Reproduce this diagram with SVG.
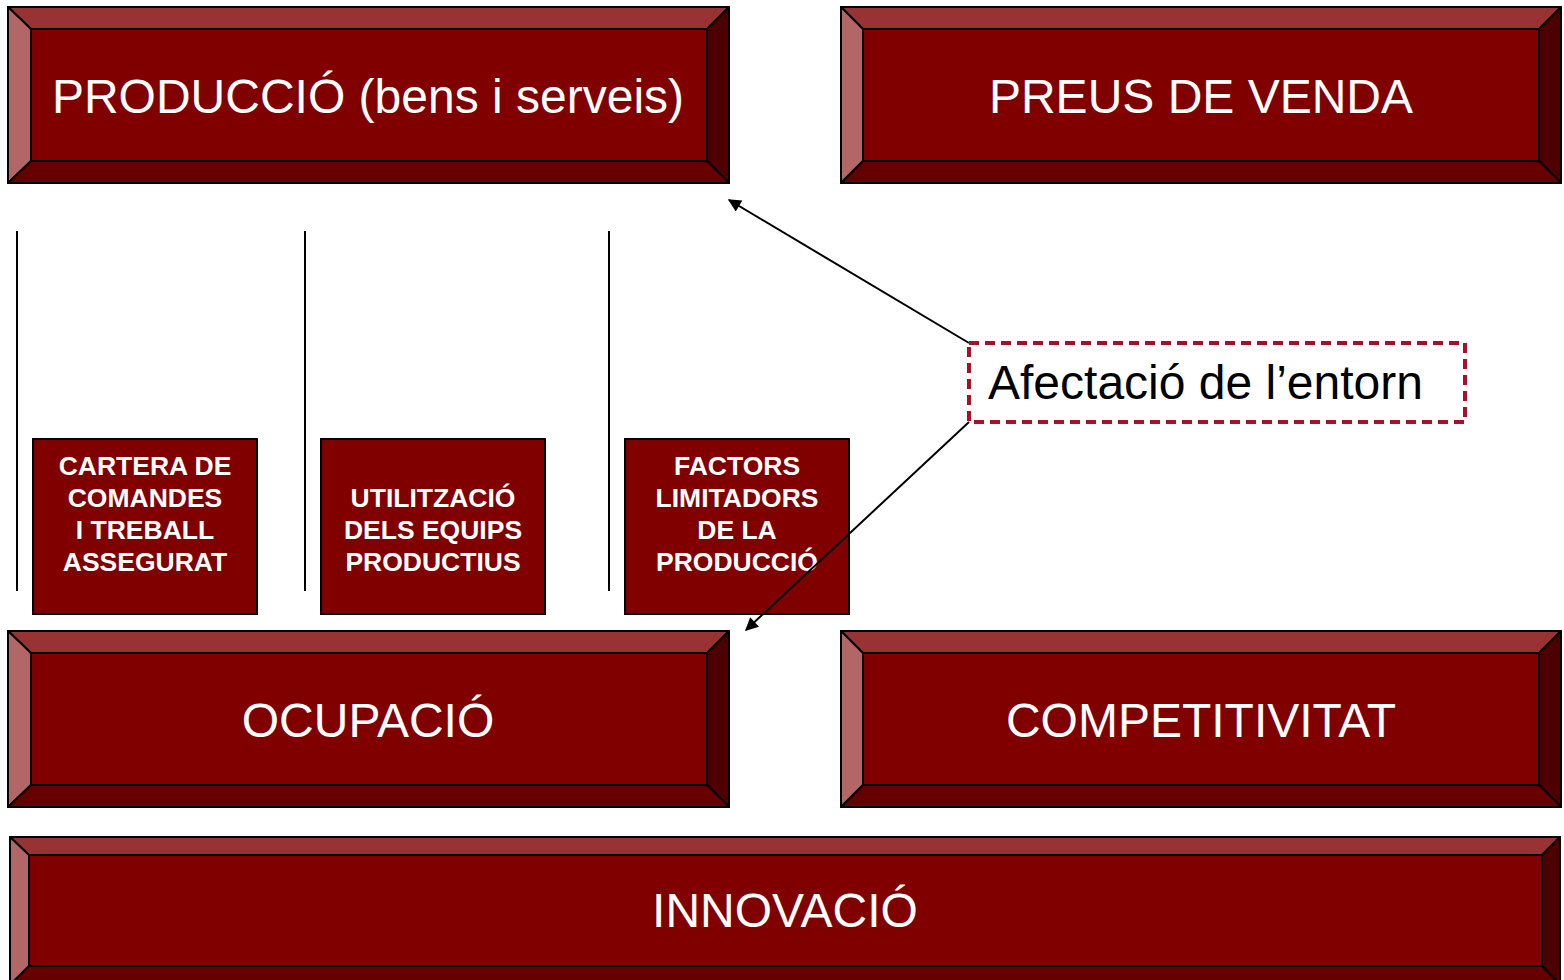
<svg xmlns="http://www.w3.org/2000/svg" width="1564" height="980" viewBox="0 0 1564 980">
<style>
.face{fill:#800000;stroke:#000;stroke-width:2}
.bt{fill:#993333;stroke:#000;stroke-width:2;stroke-linejoin:round}
.bl{fill:#B36666;stroke:#000;stroke-width:2;stroke-linejoin:round}
.br{fill:#4D0000;stroke:#000;stroke-width:2;stroke-linejoin:round}
.bb{fill:#660000;stroke:#000;stroke-width:2;stroke-linejoin:round}
.big{font-family:"Liberation Sans",Arial,sans-serif;font-size:48px;fill:#fff;text-anchor:middle}
.small{font-family:"Liberation Sans",Arial,sans-serif;font-size:26.5px;font-weight:bold;fill:#fff;text-anchor:middle}
.sbox{fill:#800000;stroke:#000;stroke-width:2}
.vline{stroke:#000;stroke-width:2;fill:none}
.conn{stroke:#000;stroke-width:2;fill:none}
</style>
<defs>
<marker id="arr" viewBox="0 0 10 10" refX="9" refY="5" markerWidth="17" markerHeight="13" markerUnits="userSpaceOnUse" orient="auto">
<path d="M0,0 L10,5 L0,10 z" fill="#000"/>
</marker>
</defs>
<rect width="1564" height="980" fill="#fff"/>

<g id="produccio">
<polygon class="bt" points="8,7 729,7 707,29 31,29"/>
<polygon class="bl" points="8,7 31,29 31,161 8,183"/>
<polygon class="br" points="729,7 729,183 707,161 707,29"/>
<polygon class="bb" points="8,183 31,161 707,161 729,183"/>
<rect class="face" x="31" y="29" width="676" height="132"/>
<text class="big" x="368" y="113">PRODUCCIÓ (bens i serveis)</text>
</g>

<g id="preus">
<polygon class="bt" points="841,7 1561,7 1539,29 863,29"/>
<polygon class="bl" points="841,7 863,29 863,161 841,183"/>
<polygon class="br" points="1561,7 1561,183 1539,161 1539,29"/>
<polygon class="bb" points="841,183 863,161 1539,161 1561,183"/>
<rect class="face" x="863" y="29" width="676" height="132"/>
<text class="big" x="1201" y="113">PREUS DE VENDA</text>
</g>

<g id="ocupacio">
<polygon class="bt" points="8,631 729,631 707,653 31,653"/>
<polygon class="bl" points="8,631 31,653 31,785 8,807"/>
<polygon class="br" points="729,631 729,807 707,785 707,653"/>
<polygon class="bb" points="8,807 31,785 707,785 729,807"/>
<rect class="face" x="31" y="653" width="676" height="132"/>
<text class="big" x="368" y="737">OCUPACIÓ</text>
</g>

<g id="competitivitat">
<polygon class="bt" points="841,631 1561,631 1539,653 863,653"/>
<polygon class="bl" points="841,631 863,653 863,785 841,807"/>
<polygon class="br" points="1561,631 1561,807 1539,785 1539,653"/>
<polygon class="bb" points="841,807 863,785 1539,785 1561,807"/>
<rect class="face" x="863" y="653" width="676" height="132"/>
<text class="big" x="1201" y="737">COMPETITIVITAT</text>
</g>

<g id="innovacio">
<polygon class="bt" points="10,837 1560,837 1542,855 29,855"/>
<polygon class="bl" points="10,837 29,855 29,966 10,985"/>
<polygon class="br" points="1560,837 1560,985 1542,966 1542,855"/>
<polygon class="bb" points="10,985 29,966 1542,966 1560,985"/>
<rect class="face" x="29" y="855" width="1513" height="111"/>
<text class="big" x="785" y="927">INNOVACIÓ</text>
</g>

<g id="lines">
<line class="vline" x1="17" y1="231" x2="17" y2="591"/>
<line class="vline" x1="305" y1="231" x2="305" y2="591"/>
<line class="vline" x1="609" y1="231" x2="609" y2="591"/>
</g>

<g id="cartera">
<rect class="sbox" x="33" y="439" width="224" height="175"/>
<text class="small" x="145" y="475">CARTERA DE</text>
<text class="small" x="145" y="507">COMANDES</text>
<text class="small" x="145" y="539">I TREBALL</text>
<text class="small" x="145" y="571">ASSEGURAT</text>
</g>

<g id="utilitzacio">
<rect class="sbox" x="321" y="439" width="224" height="175"/>
<text class="small" x="433" y="507">UTILITZACIÓ</text>
<text class="small" x="433" y="539">DELS EQUIPS</text>
<text class="small" x="433" y="571">PRODUCTIUS</text>
</g>

<g id="factors">
<rect class="sbox" x="625" y="439" width="224" height="175"/>
<text class="small" x="737" y="475">FACTORS</text>
<text class="small" x="737" y="507">LIMITADORS</text>
<text class="small" x="737" y="539">DE LA</text>
<text class="small" x="737" y="571">PRODUCCIÓ</text>
</g>

<g id="connectors">
<line class="conn" x1="969" y1="343" x2="729" y2="200" marker-end="url(#arr)"/>
<line class="conn" x1="969" y1="422" x2="746" y2="630" marker-end="url(#arr)"/>
</g>

<g id="afectacio">
<rect x="969" y="343" width="496" height="79" fill="none" stroke="#A8102E" stroke-width="4" stroke-dasharray="10,6"/>
<text x="988" y="399" font-family="'Liberation Sans',Arial,sans-serif" font-size="48" fill="#000">Afectació de l’entorn</text>
</g>
</svg>
